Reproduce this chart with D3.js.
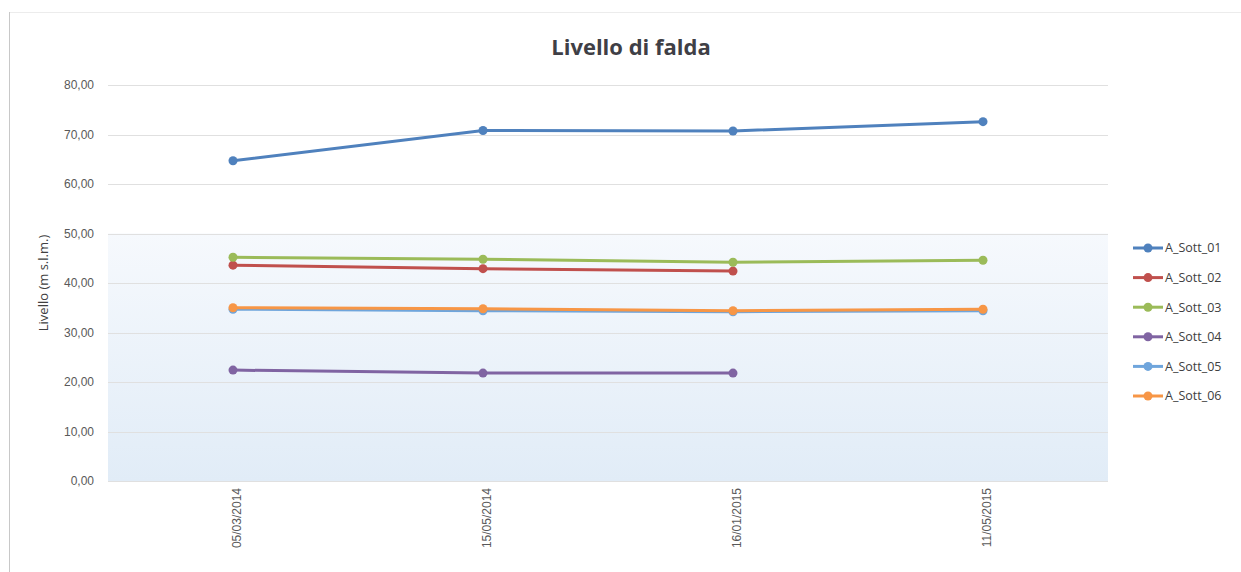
<!DOCTYPE html>
<html>
<head>
<meta charset="utf-8">
<script src="https://cdn.jsdelivr.net/npm/d3@7"></script>
<style>
body { margin: 0; background: #fff; }
svg { font-family: "Open Sans", "Liberation Sans", sans-serif; }
</style>
</head>
<body>
<script>
// dati
var dates = ["05/03/2014", "15/05/2014", "16/01/2015", "11/05/2015"];
var seriesNames = ["A_Sott_01", "A_Sott_02", "A_Sott_03", "A_Sott_04", "A_Sott_05", "A_Sott_06"];
var sott01 = [64.7, 70.8, 70.7, 72.6];
var sott02 = [43.6, 42.9, 42.4, null];
var sott03 = [45.2, 44.8, 44.2, 44.6];
var sott04 = [22.4, 21.8, 21.8, null];
var sott05 = [34.7, 34.4, 34.2, 34.4];
var sott06 = [35.0, 34.8, 34.4, 34.7];
var yTicks = [0, 10, 20, 30, 40, 50, 60, 70, 80];

var colors = ["#4f81bd", "#c0504d", "#9bbb59", "#8064a2", "#6fa5dc", "#f79646"];
var allValues = [sott01, sott02, sott03, sott04, sott05, sott06];

var W = 1241, H = 572;
var margin = {left: 108, right: 133, top: 85, bottom: 91};

var svg = d3.select("body").append("svg")
	.attr("width", W)
	.attr("height", H);

// cornice del grafico
svg.append("rect")
	.attr("x", 9.5).attr("y", 12.5)
	.attr("width", 1240).attr("height", 570)
	.attr("fill", "none")
	.attr("stroke", "#ececec");
svg.append("line")
	.attr("x1", 9.5).attr("x2", 9.5)
	.attr("y1", 12).attr("y2", H)
	.attr("stroke", "#c8c8c8");

var x = d3.scalePoint()
	.domain(dates)
	.range([margin.left, W - margin.right])
	.padding(0.5);

var y = d3.scaleLinear()
	.domain([0, 80])
	.range([H - margin.bottom, margin.top]);

// sfondo sfumato nella parte bassa
var defs = svg.append("defs");
var grad = defs.append("linearGradient")
	.attr("id", "bg").attr("x1", 0).attr("y1", 0).attr("x2", 0).attr("y2", 1);
grad.append("stop").attr("offset", "0%").attr("stop-color", "#f6f9fd");
grad.append("stop").attr("offset", "100%").attr("stop-color", "#e1ecf7");

svg.append("rect")
	.attr("x", margin.left)
	.attr("y", y(50))
	.attr("width", W - margin.right - margin.left)
	.attr("height", y(0) - y(50))
	.attr("fill", "url(#bg)");

// griglia
svg.append("g")
	.selectAll("line")
	.data(yTicks)
	.enter().append("line")
	.attr("x1", margin.left)
	.attr("x2", W - margin.right)
	.attr("y1", function(d) { return Math.round(y(d)) + 0.5; })
	.attr("y2", function(d) { return Math.round(y(d)) + 0.5; })
	.attr("stroke", "#e0e0e0")
	.attr("stroke-width", 1);

// asse y
var yAxis = svg.append("g")
	.attr("transform", "translate(" + margin.left + ",0)")
	.call(d3.axisLeft(y).tickValues(yTicks).tickSize(0).tickPadding(14)
		.tickFormat(function(d) { return d3.format(".2f")(d).replace(".", ","); }));
yAxis.select(".domain").remove();
yAxis.selectAll("text")
	.attr("font-size", 12)
	.attr("fill", "#595959");

// asse x
var xAxis = svg.append("g")
	.attr("transform", "translate(0," + (H - margin.bottom) + ")")
	.call(d3.axisBottom(x).tickSize(0));
xAxis.select(".domain").remove();
xAxis.selectAll("text")
	.attr("font-size", 12)
	.attr("fill", "#595959")
	.attr("text-anchor", "end")
	.attr("dy", "0.35em")
	.attr("transform", "translate(0,7) rotate(-90)");

// titolo asse y
svg.append("text")
	.attr("transform", "translate(48," + y(40) + ") rotate(-90)")
	.attr("text-anchor", "middle")
	.attr("font-size", 13)
	.attr("fill", "#404040")
	.text("Livello (m s.l.m.)");

// titolo
svg.append("text")
	.attr("x", 631)
	.attr("y", 55)
	.attr("text-anchor", "middle")
	.attr("font-size", 22)
	.attr("font-weight", "bold")
	.attr("fill", "#3f3f46")
	.text("Livello di falda");

var line = d3.line()
	.defined(function(d) { return d != null; })
	.x(function(d, i) { return x(dates[i]); })
	.y(function(d) { return y(d); });

for (var s = 0; s < allValues.length; s++) {
	var vals = allValues[s];
	svg.append("path")
		.datum(vals)
		.attr("fill", "none")
		.attr("stroke", colors[s])
		.attr("stroke-width", 3)
		.attr("d", line);
	svg.append("g")
		.selectAll("circle")
		.data(vals.map(function(v, i) { return {v: v, i: i}; }).filter(function(d) { return d.v != null; }))
		.enter().append("circle")
		.attr("cx", function(d) { return x(dates[d.i]); })
		.attr("cy", function(d) { return y(d.v); })
		.attr("r", 4.5)
		.attr("fill", colors[s]);
}

// legenda
var legend = svg.append("g")
	.attr("transform", "translate(1133,248)");
var item = legend.selectAll("g")
	.data(seriesNames)
	.enter().append("g")
	.attr("transform", function(d, i) { return "translate(0," + (i * 29.6) + ")"; });
item.append("line")
	.attr("x1", 0).attr("x2", 30)
	.attr("stroke", function(d, i) { return colors[i]; })
	.attr("stroke-width", 3);
item.append("circle")
	.attr("cx", 15).attr("r", 4.5)
	.attr("fill", function(d, i) { return colors[i]; });
item.append("text")
	.attr("x", 32)
	.attr("dy", "0.35em")
	.attr("font-size", 12.5)
	.attr("fill", "#404040")
	.text(function(d) { return d; });
</script>
</body>
</html>
